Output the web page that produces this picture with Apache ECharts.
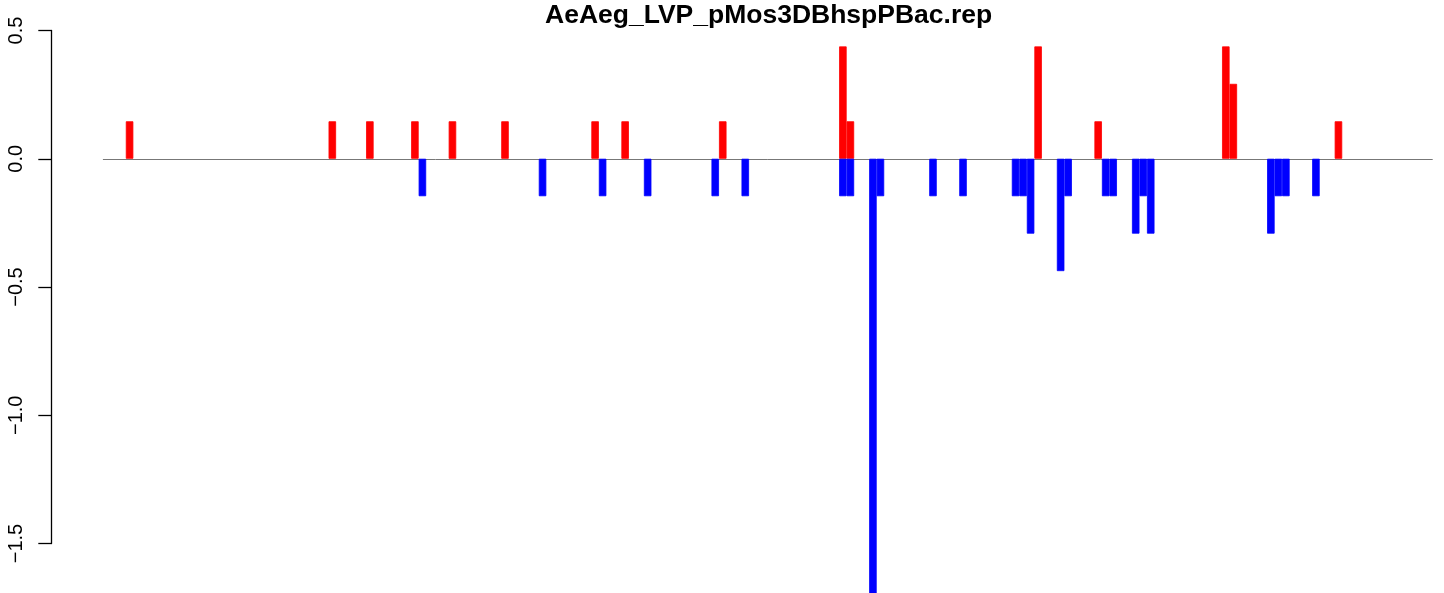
<!DOCTYPE html>
<html>
<head>
<meta charset="utf-8">
<script src="https://cdn.jsdelivr.net/npm/echarts@6/dist/echarts.min.js"></script>
<style>
html,body{margin:0;padding:0;background:#fff;}
#chart{width:1444px;height:593px;}
</style>
</head>
<body>
<div id="chart"></div>
<script>
// Number of bins along the x axis
var binCount = 177;
var categories = [];
for (var i = 1; i <= binCount; i++) categories.push(String(i));

// Positive (red) bars: bin index and value
var upBins   = [3, 30, 35, 41, 46, 53, 65, 69, 82, 98, 99, 124, 132, 149, 150, 164];
var upValues = [0.146, 0.146, 0.146, 0.146, 0.146, 0.146, 0.146, 0.146, 0.146, 0.438, 0.146, 0.438, 0.146, 0.438, 0.292, 0.146];

// Negative (blue) bars: bin index and value
var downBins   = [42, 58, 66, 72, 81, 85, 98, 99, 102, 103, 110, 114, 121, 122, 123, 127, 128, 133, 134, 137, 138, 139, 155, 156, 157, 161];
var downValues = [-0.146, -0.146, -0.146, -0.146, -0.146, -0.146, -0.146, -0.146, -1.75, -0.146, -0.146, -0.146, -0.146, -0.146, -0.292, -0.438, -0.146, -0.146, -0.146, -0.292, -0.146, -0.292, -0.292, -0.146, -0.146, -0.146];

// Y-axis ticks
var yMin = -1.5, yMax = 0.5, yStep = 0.5;

var titleText = 'AeAeg_LVP_pMos3DBhspPBac.rep';

function dense(bins, vals) {
  var arr = [];
  for (var i = 0; i < binCount; i++) arr.push(null);
  for (var j = 0; j < bins.length; j++) arr[bins[j]] = vals[j];
  return arr;
}

var chart = echarts.init(document.getElementById('chart'), null, {renderer: 'canvas'});
chart.setOption({
  animation: false,
  backgroundColor: '#ffffff',
  title: {
    text: titleText,
    left: 545,
    top: 2,
    padding: 0,
    textStyle: {fontFamily: 'Liberation Sans, Arial, sans-serif', fontWeight: 'bold', fontSize: 26.5, color: '#000'}
  },
  grid: {left: 103.3, right: 11.7, top: 30.5, height: 513, containLabel: false},
  xAxis: {
    type: 'category',
    data: categories,
    boundaryGap: true,
    axisLine: {show: true, onZero: true, lineStyle: {color: '#777777', width: 1}},
    axisTick: {show: false},
    axisLabel: {show: false},
    splitLine: {show: false}
  },
  yAxis: {
    type: 'value',
    min: yMin, max: yMax, interval: yStep,
    offset: 52,
    axisLine: {show: true, lineStyle: {color: '#000', width: 1.3}},
    axisTick: {show: true, length: 13, inside: false, lineStyle: {color: '#000', width: 1.3}},
    axisLabel: {
      rotate: 90, margin: 25, fontSize: 20, color: '#000',
      fontFamily: 'Liberation Sans, Arial, sans-serif',
      formatter: function (v) { return String(v.toFixed(1)).replace('-', '\u2212'); }
    },
    splitLine: {show: false}
  },
  series: [
    {
      type: 'bar', name: 'up', data: dense(upBins, upValues),
      barWidth: '100%', barGap: '-100%', barCategoryGap: 0,
      itemStyle: {color: '#ff0000', borderColor: '#ff0000', borderWidth: 0.8, borderJoin: 'miter'}, clip: false
    },
    {
      type: 'bar', name: 'down', data: dense(downBins, downValues),
      barWidth: '100%', barGap: '-100%', barCategoryGap: 0,
      itemStyle: {color: '#0000ff', borderColor: '#0000ff', borderWidth: 0.8, borderJoin: 'miter'}, clip: false
    }
  ]
});
</script>
</body>
</html>
